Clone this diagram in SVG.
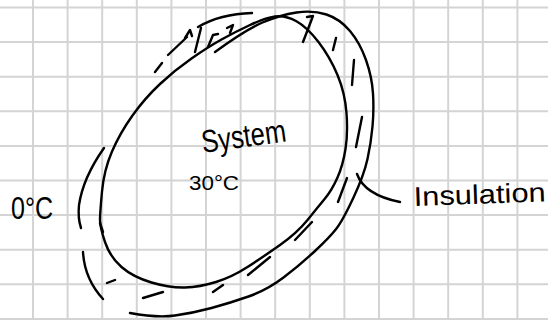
<svg xmlns="http://www.w3.org/2000/svg" width="548" height="320" viewBox="0 0 548 320">
<style>
.grid{stroke:#d4d4d4;stroke-width:2;fill:none}
.ink{stroke:#000;stroke-width:2.4;fill:none;stroke-linecap:round;stroke-linejoin:round}
.hand{font-family:"Liberation Sans",Arial,sans-serif;fill:#000}
</style>
<rect width="548" height="320" fill="#fff"/>
<g id="grid">
<path class="grid" d="M33,0V320M67.6,0V320M102.2,0V320M136.8,0V320M171.4,0V320M206,0V320M240.6,0V320M275.2,0V320M309.8,0V320M344.4,0V320M379,0V320M413.6,0V320M448.2,0V320M482.8,0V320M517.4,0V320M0,7.5H548M0,42.1H548M0,76.7H548M0,111.3H548M0,145.9H548M0,180.5H548M0,215.1H548M0,249.7H548M0,284.3H548M0,318.9H548"/>
</g>
<g id="system">
<path class="ink" d="M100,220 Q100,213 102,191.5 Q104,170 112,151.5 Q120,133 132.5,115.5 Q145,98 160,84 Q175,70 191.5,58.5 Q208,47 221.5,39.5 Q235,32 250,25 Q265,18 275,16.5 Q285,15 296,21 Q307,27 318.5,42 Q330,57 337.5,75 Q345,93 346.5,113 Q348,133 345.5,149 Q343,165 337.5,177.5 Q332,190 325,198.5 Q318,207 307.5,220 Q297,233 280,245 Q263,257 247.5,267 Q232,277 216,282 Q200,287 185,287.5 Q170,288 151.5,282.5 Q133,277 121.5,267 Q110,257 105,242 Q100,227 100,220 Z"/>
<path class="ink" d="M100,223 L103,232"/>
<text class="hand" x="203" y="153" font-size="32" textLength="85" lengthAdjust="spacingAndGlyphs" transform="rotate(-8 203 153)">System</text>
<text class="hand" x="189" y="190" font-size="20" textLength="50" lengthAdjust="spacingAndGlyphs">30°C</text>
</g>
<g id="insulation">
<path class="ink" d="M215,52 Q245,30 262.5,22.5 Q280,15 296.5,12.5 Q313,10 326.5,14.5 Q340,19 350,31 Q360,43 366,60 Q372,77 373,93.5 Q374,110 372.5,126.5 Q371,143 367.5,159 Q364,175 353.5,197.5 Q343,220 336.5,228.5 Q330,237 315,251 Q300,265 283.5,277.5 Q267,290 248.5,296.5 Q230,303 211.5,308 Q193,313 175,315.5 Q157,318 130,313"/>
<path class="ink" d="M104,148 C92,165 82,185 79,205 C78,215 79,222 81,228"/>
<path class="ink" d="M83,252 C84,270 92,287 103,299"/>
<path class="ink" d="M107,283L115,280M143,298L163,292M213,292L223,285M248,275L270,257M295,240L312,222M338,202L347,178M356,147L362,117M352,85L354,60M333,50L336,38"/>
<path class="ink" d="M307,17L313,16L303,42"/>
<path class="ink" d="M155,72L162,63M168,55L187,37M185,38L190,30L192,36M195,52L201,28M198,27Q220,14 252,13M208,47L213,35L218,34M227,28L233,25L230,33"/>
</g>
<g id="outside">
<text class="hand" x="11" y="219" font-size="31" textLength="42" lengthAdjust="spacingAndGlyphs">0°C</text>
</g>
<g id="connectors">
<path class="ink" d="M357,174 C362,188 375,197 400,202"/>
</g>
<g id="label-insulation">
<text class="hand" x="414" y="206" font-size="27" textLength="132" lengthAdjust="spacingAndGlyphs" transform="rotate(-2 414 206)">Insulation</text>
</g>
</svg>
